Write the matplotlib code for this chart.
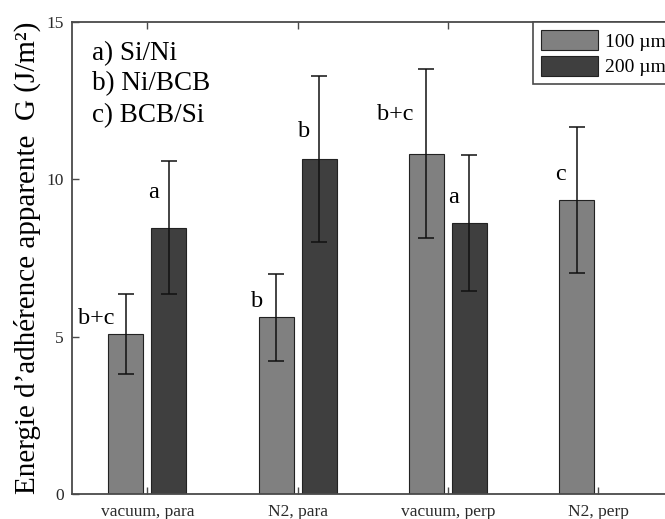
import matplotlib.pyplot as plt
import numpy as np

plt.rcParams['font.family'] = ['Liberation Serif', 'DejaVu Serif']

categories = ['vacuum, para', 'N2, para', 'vacuum, perp', 'N2, perp']
g100 = [5.07, 5.62, 10.82, 9.34]
err100 = [1.27, 1.38, 2.70, 2.33]
g200 = [8.46, 10.65, 8.60]          # no 200 um sample for N2, perp
err200 = [2.11, 2.64, 2.16]

# interface labels written next to the bars
ann_text = ['b+c', 'a', 'b', 'b', 'b+c', 'a', 'c']
ann_x = [0.66, 1.04, 1.73, 2.04, 2.65, 3.04, 3.75]
ann_y = [5.40, 9.41, 5.94, 11.34, 11.88, 9.25, 9.98]

key_lines = ['a) Si/Ni', 'b) Ni/BCB', 'c) BCB/Si']
key_y = [13.79, 12.82, 11.83]

c100 = '#808080'
c200 = '#3f3f3f'
spine_col = '#4a4a4a'

fig = plt.figure(figsize=(6.65, 5.19), dpi=100)
ax = fig.add_axes([0.1087, 0.0482, 0.9038, 0.9094])

x = np.arange(1, len(categories) + 1)
w = 0.233
off = 0.143

ax.bar(x - off, g100, w, color=c100, edgecolor='#222222', linewidth=0.8, label='100 µm')
ax.bar(x[:3] + off, g200, w, color=c200, edgecolor='#222222', linewidth=0.8, label='200 µm')
ax.errorbar(x - off, g100, yerr=err100, fmt='none', ecolor='#111111', elinewidth=1.1, capsize=5.5, capthick=1.1)
ax.errorbar(x[:3] + off, g200, yerr=err200, fmt='none', ecolor='#111111', elinewidth=1.1, capsize=5.5, capthick=1.1)

for t, xx, yy in zip(ann_text, ann_x, ann_y):
    ax.text(xx, yy, t, ha='center', va='baseline', fontsize=17.5)

for t, yy in zip(key_lines, key_y):
    ax.text(0.63, yy, t, ha='left', va='baseline', fontsize=19.5)

ax.set_xlim(0.5, 4.5)
ax.set_ylim(0, 15)
ax.set_xticks(x)
ax.set_xticklabels(categories)
ax.set_yticks([0, 5, 10, 15])
ax.tick_params(direction='in', length=5, width=1, color=spine_col, labelsize=12.5,
               labelcolor='#2a2a2a', top=True, right=True)
ax.tick_params(axis='x', pad=7)
ax.tick_params(axis='y', pad=6)
for s in ax.spines.values():
    s.set_color(spine_col)
    s.set_linewidth(1.3)

ax.set_ylabel('Energie d\u2019adhérence apparente  G (J/m²)', fontsize=21)
ax.yaxis.set_label_coords(-0.052, 0.5)

leg = ax.legend(loc='upper left', bbox_to_anchor=(0.7666, 1.0), borderaxespad=0,
                fancybox=False, edgecolor=spine_col, framealpha=1, fontsize=14,
                handlelength=2.95, handleheight=1.24, labelspacing=0.26,
                handletextpad=0.36, borderpad=0.4)
leg.get_frame().set_linewidth(1.2)

fig.savefig('out.png', dpi=100)
